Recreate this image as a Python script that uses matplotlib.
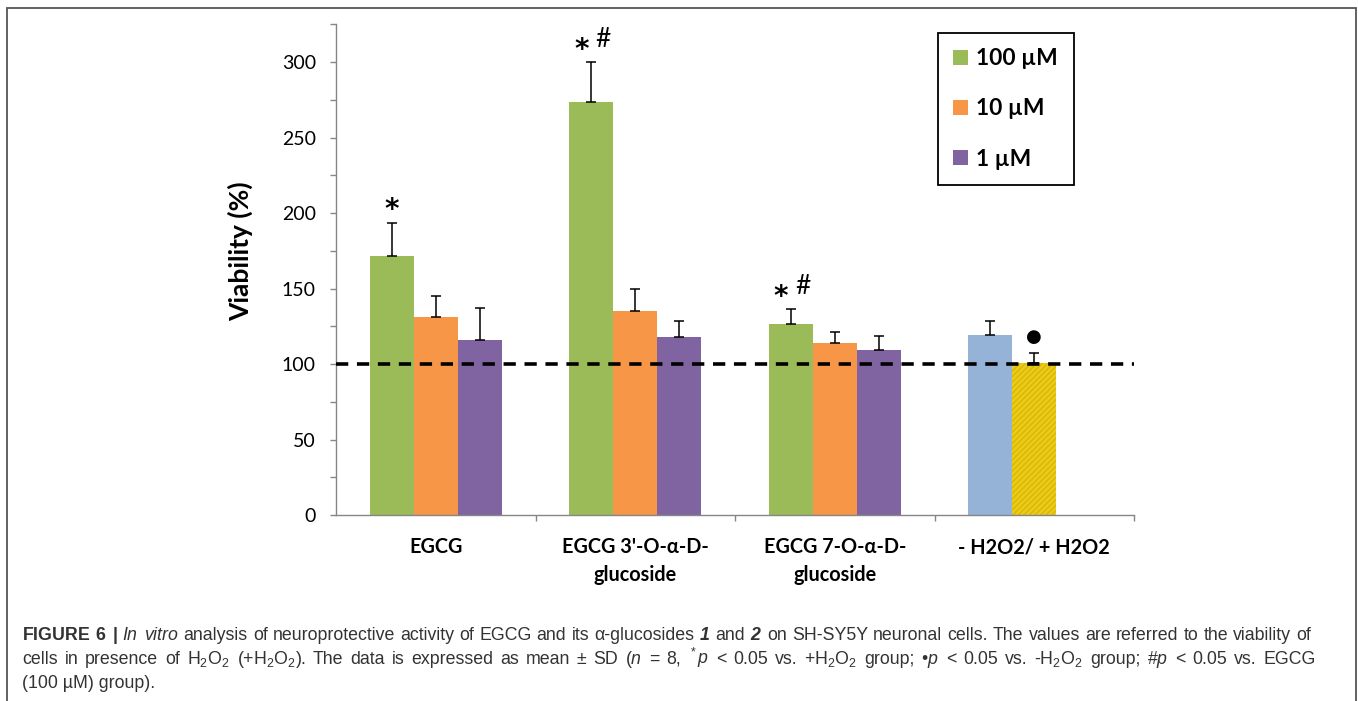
import matplotlib
matplotlib.use('Agg')
import matplotlib.pyplot as plt
from matplotlib.patches import Rectangle
from matplotlib.font_manager import FontProperties
import numpy as np

# ---------------- data ----------------
categories = ["EGCG", "EGCG 3'-O-α-D-\nglucoside", "EGCG 7-O-α-D-\nglucoside", "- H2O2/ + H2O2"]
series_labels = ["100 µM", "10 µM", "1 µM"]
vals_100 = [171.7, 273.6, 126.4]
sd_100 = [22.0, 26.5, 10.2]
vals_10 = [131.0, 135.3, 113.8]
sd_10 = [13.8, 14.7, 7.1]
vals_1 = [115.8, 118.0, 109.4]
sd_1 = [21.2, 10.4, 9.3]
ctrl_vals = [119.2, 100.6]      # -H2O2, +H2O2
ctrl_sd = [9.0, 6.6]
sig_star = [True, True, True]     # * vs +H2O2
sig_hash = [False, True, True]    # # vs EGCG (100 µM)
ctrl_sig = ["", "●"]
yticks_major = [0, 50, 100, 150, 200, 250, 300]
yticks_minor = [25, 75, 125, 175, 225, 275, 325]
baseline = 100

# ---------------- style ----------------
plt.rcParams['mathtext.fontset'] = 'custom'
plt.rcParams['mathtext.rm'] = 'Liberation Sans'
plt.rcParams['mathtext.it'] = 'Liberation Sans:italic'
plt.rcParams['mathtext.bf'] = 'Liberation Sans:bold'
plt.rcParams['mathtext.bfit'] = 'Liberation Sans:italic:bold'

green, orange, purple = '#9BBB59', '#F79646', '#8064A2'
lightblue, yellow = '#95B3D7', '#EBCB1C'
axis_gray = '#868686'

W, H = 1358, 701
fig = plt.figure(figsize=(W / 100, H / 100), dpi=100)
ax = fig.add_axes([336 / W, 1 - 515 / H, 798 / W, (515 - 24.3) / H])

x = np.arange(3)
bw = 0.22
b1 = ax.bar(x - bw, vals_100, bw, color=green, label=series_labels[0], zorder=2)
b2 = ax.bar(x, vals_10, bw, color=orange, label=series_labels[1], zorder=2)
b3 = ax.bar(x + bw, vals_1, bw, color=purple, label=series_labels[2], zorder=2)
xc = np.array([3 - bw, 3])
ax.bar(xc[0], ctrl_vals[0], bw, color=lightblue, zorder=2)
ax.bar(xc[1], ctrl_vals[1], bw, color=yellow, hatch='//////', edgecolor='#D9B800', linewidth=0, zorder=2)

eb = dict(fmt='none', ecolor='black', elinewidth=1.1, capsize=3.6, capthick=1.1, zorder=3)
for xs, v, s in [(x - bw, vals_100, sd_100), (x, vals_10, sd_10), (x + bw, vals_1, sd_1), (xc, ctrl_vals, ctrl_sd)]:
    ax.errorbar(xs, v, yerr=[np.zeros(len(v)), s], **eb)

ax.axhline(baseline, color='black', lw=2.6, ls=(0, (3.4, 2.4)), zorder=4)

# significance marks
for i in range(3):
    top = (x[i] - bw, vals_100[i] + sd_100[i])
    dx = -7 if sig_hash[i] else 0
    if sig_star[i]:
        ax.annotate('*', xy=top, xytext=(dx, 3), textcoords='offset points',
                    ha='center', va='baseline', fontsize=20, fontfamily='DejaVu Sans', fontweight='bold',
                    color='black')
    if sig_hash[i]:
        ax.annotate('#', xy=top, xytext=(8.4, 10.5), textcoords='offset points',
                    ha='center', va='baseline', fontsize=19, fontfamily='Lato', color='black')
for i, s in enumerate(ctrl_sig):
    if s:
        ax.annotate(s, xy=(xc[i], ctrl_vals[i] + ctrl_sd[i]), xytext=(0, 5), textcoords='offset points',
                    ha='center', va='bottom', fontsize=13, fontfamily='DejaVu Sans', color='black')

# axes
ax.set_xlim(-0.5, 3.5)
ax.set_ylim(0, 325)
ax.set_yticks(yticks_major)
ax.set_yticks(yticks_minor, minor=True)
ax.set_yticklabels([str(t) for t in yticks_major], fontfamily='Lato', fontsize=14)
ax.set_xticks([0, 1, 2, 3])
ax.set_xticklabels(categories, fontfamily='Lato', fontsize=14.3, fontweight='bold', linespacing=1.5)
ax.set_xticks([0.5, 1.5, 2.5, 3.5], minor=True)
ax.tick_params(axis='x', which='major', length=0, pad=16)
ax.tick_params(axis='x', which='minor', length=4.5, color=axis_gray, width=1)
ax.tick_params(axis='y', which='both', length=4.5, color=axis_gray, width=1, pad=10)
for sp in ['top', 'right']:
    ax.spines[sp].set_visible(False)
for sp in ['left', 'bottom']:
    ax.spines[sp].set_color(axis_gray)
    ax.spines[sp].set_linewidth(1)
ax.set_ylabel('Viability (%)', fontfamily='Lato', fontsize=19, fontweight='bold')
ax.yaxis.set_label_coords(-0.104, 0.538)

leg = ax.legend([b1, b2, b3], series_labels, loc='upper left',
                bbox_to_anchor=(937.6 / W, 1 - 32.7 / H), bbox_transform=fig.transFigure,
                prop=FontProperties(family='Lato', weight='bold', size=16.4),
                frameon=True, fancybox=False, framealpha=1, edgecolor='black', borderaxespad=0,
                handlelength=0.66, handleheight=0.66, handletextpad=0.36, labelspacing=1.28, borderpad=0.68)
leg.get_frame().set_linewidth(1.3)

# figure frame
fig.patches.append(Rectangle((7 / W, -0.02), (1356 - 7) / W, 1.02 - 8 / H, transform=fig.transFigure,
                             fill=False, edgecolor='#555555', lw=1.3))

# caption (justified like the journal layout); words separated by plain spaces
cap_kw = dict(fontfamily='Liberation Sans', fontsize=12.8, color='#333333', va='baseline', ha='left')
line1 = (r"$\mathbf{FIGURE}$ $\mathbf{6}$ $\mathbf{|}$ $\mathit{In}$ $\mathit{vitro}$ analysis of neuroprotective "
         r"activity of EGCG and its α-glucosides $\mathbfit{1}$ and $\mathbfit{2}$ on SH-SY5Y neuronal cells. "
         r"The values are referred to the viability of")
line2 = (r"cells in presence of H$_2$O$_2$ (+H$_2$O$_2$). The data is expressed as mean ± SD ($\mathit{n}$ = 8, "
         r"$^*\mathit{p}$ < 0.05 vs. +H$_2$O$_2$ group; •$\mathit{p}$ < 0.05 vs. -H$_2$O$_2$ group; "
         r"#$\mathit{p}$ < 0.05 vs. EGCG")
line3 = r"(100 µM) group)."

renderer = fig.canvas.get_renderer()


def justified(line, y_px, x0_px, x1_px):
    words = [w for w in line.split(' ') if w]
    texts = [fig.text(0, 1 - y_px / H, w, **cap_kw) for w in words]
    widths = [t.get_window_extent(renderer).width for t in texts]
    gap = (x1_px - x0_px - sum(widths)) / (len(words) - 1)
    xp = x0_px
    for t, w in zip(texts, widths):
        t.set_x(xp / W)
        xp += w + gap


justified(line1, 640, 22, 1311)
justified(line2, 664, 22, 1316)
fig.text(22 / W, 1 - 688 / H, line3, **cap_kw)

fig.savefig('out.png', dpi=100)
